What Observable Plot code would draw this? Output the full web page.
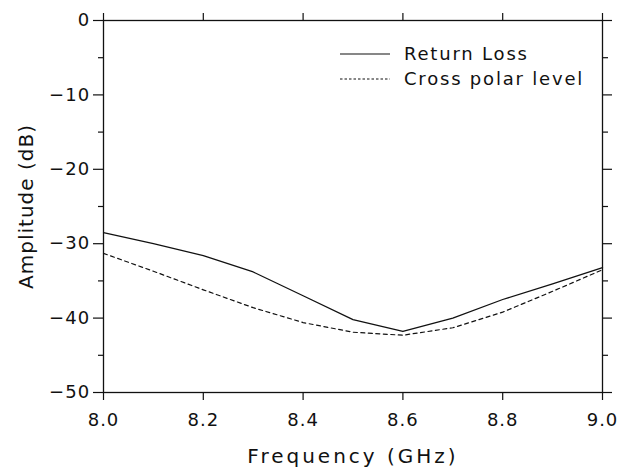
<!DOCTYPE html>
<html>
<head>
<meta charset="utf-8">
<script src="https://cdn.jsdelivr.net/npm/d3@7"></script>
<script src="https://cdn.jsdelivr.net/npm/@observablehq/plot@0.6"></script>
<style>
  html, body { margin: 0; padding: 0; background: #fff; }
  #wrap { position: relative; width: 618px; height: 469px; font-family: "DejaVu Sans", sans-serif; }
  #legend { position: absolute; left: 340px; top: 41px; font-size: 18px; letter-spacing: 1.8px; color: #111; }
  #legend div { display: flex; align-items: center; height: 25px; }
  #legend svg { margin-right: 14px; }
</style>
</head>
<body>
<div id="wrap"><div id="legend"></div></div>
<script>
const freq = [8.0, 8.1, 8.2, 8.3, 8.4, 8.5, 8.6, 8.7, 8.8, 8.9, 9.0];
const returnLoss = [-28.5, -30.0, -31.6, -33.8, -37.0, -40.2, -41.8, -40.0, -37.5, -35.4, -33.2];
const crossPolar = [-31.3, -33.7, -36.2, -38.6, -40.6, -41.9, -42.3, -41.3, -39.2, -36.4, -33.5];
const seriesNames = ["Return Loss", "Cross polar level"];
const xTicks = [8.0, 8.2, 8.4, 8.6, 8.8, 9.0];
const yMajor = [0, -10, -20, -30, -40, -50];
const yMinor = [-5, -15, -25, -35, -45];
const xTitle = "Frequency (GHz)";
const yTitle = "Amplitude (dB)";

const rows = [];
freq.forEach((f, i) => {
  rows.push({f, v: returnLoss[i], s: seriesNames[0]});
  rows.push({f, v: crossPolar[i], s: seriesNames[1]});
});

const blank = () => "";
const font = "DejaVu Sans, sans-serif";
const chart = Plot.plot({
  width: 618,
  height: 469,
  marginLeft: 103,
  marginRight: 16,
  marginTop: 20,
  marginBottom: 77,
  style: {fontFamily: font, fontSize: "18px", color: "#111", background: "#fff"},
  x: {domain: [8, 9]},
  y: {domain: [-50, 0]},
  marks: [
    Plot.frame({stroke: "#111", strokeWidth: 1.3}),
    Plot.axisX({ticks: xTicks, tickSize: 8, tickPadding: 13, tickFormat: d3.format(".1f"), label: null, fontSize: 18, strokeWidth: 1.2}),
    Plot.axisX({ticks: [], label: xTitle, labelAnchor: "center", labelArrow: "none", labelOffset: 70, fontSize: 20}),
    Plot.axisX({anchor: "top", ticks: xTicks, tickSize: 8, tickFormat: blank, label: null, strokeWidth: 1.2}),
    Plot.axisY({ticks: yMajor, tickSize: 10, tickPadding: 3, tickFormat: d => d === 0 ? "0" : "\u2212" + Math.abs(d), label: null, fontSize: 18, strokeWidth: 1.2}),
    Plot.axisY({ticks: [], label: yTitle, labelAnchor: "center", labelArrow: "none", labelOffset: 85, fontSize: 20}),
    Plot.axisY({ticks: yMinor, tickSize: 5, tickFormat: blank, label: null, strokeWidth: 1.2}),
    Plot.axisY({anchor: "right", ticks: yMajor, tickSize: 9, tickFormat: blank, label: null, strokeWidth: 1.2}),
    Plot.axisY({anchor: "right", ticks: yMinor, tickSize: 5, tickFormat: blank, label: null, strokeWidth: 1.2}),
    Plot.line(rows.filter(d => d.s === seriesNames[0]), {x: "f", y: "v", stroke: "#111", strokeWidth: 1.3}),
    Plot.line(rows.filter(d => d.s === seriesNames[1]), {x: "f", y: "v", stroke: "#111", strokeWidth: 1.2, strokeDasharray: "4,3.5"})
  ]
});
chart.querySelectorAll("text").forEach(t => {
  const s = t.textContent;
  if (s === xTitle) t.style.letterSpacing = "3px";
  else if (s === yTitle) t.style.letterSpacing = "1px";
  else if (s.startsWith("\u2212") || s === "0") t.style.letterSpacing = "1.2px";
  else t.style.letterSpacing = "1px";
});
const wrap = document.getElementById("wrap");
wrap.insertBefore(chart, wrap.firstChild);

const legend = document.getElementById("legend");
seriesNames.forEach((name, i) => {
  const row = document.createElement("div");
  row.innerHTML = `<svg width="50" height="4"><line x1="0" x2="50" y1="2" y2="2" stroke="#111" stroke-width="1.2" ${i ? 'stroke-dasharray="2.5,2"' : ''}/></svg><span>${name}</span>`;
  legend.appendChild(row);
});
</script>
</body>
</html>
